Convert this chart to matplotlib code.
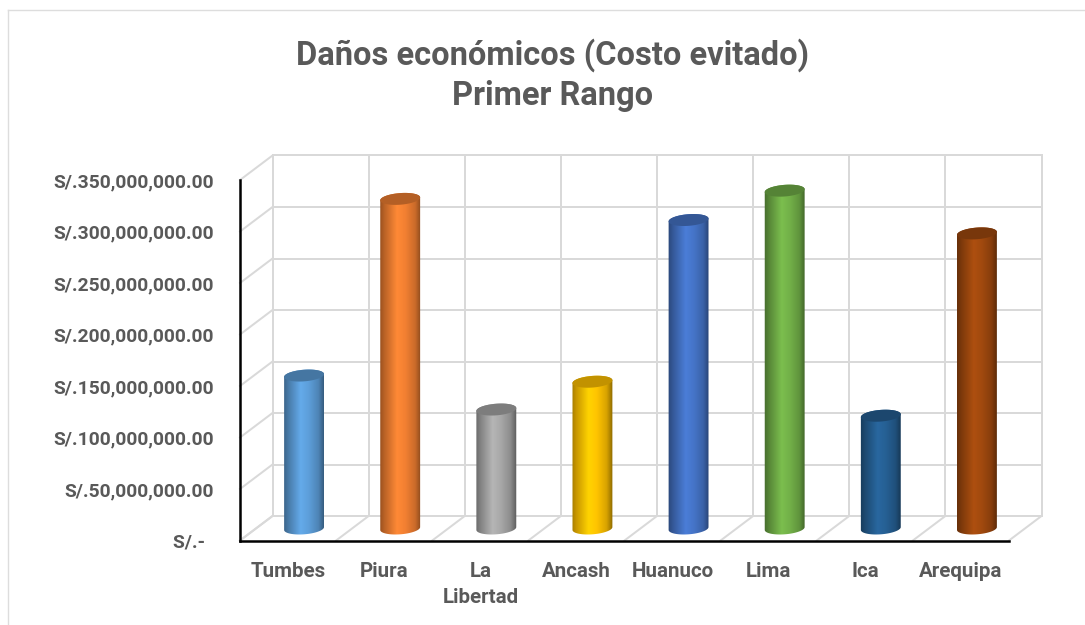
import numpy as np
import matplotlib
matplotlib.use("Agg")
import matplotlib.pyplot as plt
from matplotlib.colors import LinearSegmentedColormap
from matplotlib.lines import Line2D
from matplotlib.patches import Polygon
from matplotlib.transforms import Affine2D

categories = ["Tumbes", "Piura", "La\nLibertad", "Ancash", "Huanuco", "Lima", "Ica", "Arequipa"]
values = [148.5e6, 320e6, 115.5e6, 142.5e6, 299.5e6, 328e6, 109.5e6, 286.5e6]
mid_colors = ["#5B9BD5", "#ED7D31", "#A5A5A5", "#FFC000", "#4472C4", "#70AD47", "#255E91", "#9E480E"]
y_ticks = [0, 50e6, 100e6, 150e6, 200e6, 250e6, 300e6, 350e6]
y_labels = ["S/.-  ", "S/.50,000,000.00", "S/.100,000,000.00", "S/.150,000,000.00",
            "S/.200,000,000.00", "S/.250,000,000.00", "S/.300,000,000.00", "S/.350,000,000.00"]
title = "Daños económicos (Costo evitado)\nPrimer Rango"

W, H = 1085, 625
L, R, B, T = 240.0, 1009.0, 540.5, 180.0
GRID = "#D9D9D9"
TEXT = "#595959"
FONT = "Roboto"

fig = plt.figure(figsize=(W / 100, H / 100), dpi=100, facecolor="white")
for xs, ys in [((8, 1085), (10, 10)), ((8, 8), (10, 625))]:
    fig.add_artist(Line2D([x / W for x in xs], [1 - y / H for y in ys], transform=fig.transFigure,
                          color="#DDDDDD", linewidth=1.0))
ax = fig.add_axes([L / W, (H - B) / H, (R - L) / W, (B - T) / H])
ax.set_xlim(-0.5, len(categories) - 0.5)
ax.set_ylim(0, 350e6)
ax.patch.set_visible(False)

back = ax.transData + Affine2D().translate(32.5, 24.5)
middle = ax.transData + Affine2D().translate(16, 12)
gpx = 2.0 * 0.72
px_x = 8 / (R - L)
px_y = 350e6 / (B - T)

# walls and floor
for v in y_ticks:
    ax.plot([-0.5, 7.5], [v, v], transform=back, color=GRID, lw=gpx, clip_on=False, zorder=1)
    ax.plot([-0.5, -0.5 + 32.5 * px_x], [v, v + 24.5 * px_y], color=GRID, lw=gpx, clip_on=False, zorder=1)
for i in range(9):
    x = i - 0.5
    ax.plot([x, x], [0, 350e6], transform=back, color=GRID, lw=gpx, clip_on=False, zorder=1)
    ax.plot([x, x + 32.5 * px_x], [0, 24.5 * px_y], color=GRID, lw=gpx, clip_on=False, zorder=1)

# cylinders
a, b, phi = 20.0, 5.8, np.deg2rad(4.5)


def ell(t):
    ex = a * np.cos(t) * np.cos(phi) - b * np.sin(t) * np.sin(phi)
    ey = a * np.cos(t) * np.sin(phi) + b * np.sin(t) * np.cos(phi)
    return ex * px_x, ey * px_y


def shade(c, f):
    rgb = np.array(matplotlib.colors.to_rgb(c))
    return tuple(np.clip(rgb * f, 0, 1))


for i, (v, c) in enumerate(zip(values, mid_colors)):
    t_low = np.linspace(np.pi, 2 * np.pi, 60)
    t_up = np.linspace(0, np.pi, 60)
    xl, yl = ell(t_low)
    xu, yu = ell(t_up)
    outline = np.column_stack([np.r_[i + xl, i + xu], np.r_[yl, v + yu]])
    body = Polygon(outline, closed=True, transform=middle, facecolor="none", edgecolor="none", zorder=2)
    ax.add_patch(body)
    cmap = LinearSegmentedColormap.from_list(
        "c", [(0, shade(c, 0.62)), (0.12, shade(c, 0.78)), (0.42, shade(c, 1.1)),
              (0.62, shade(c, 1.02)), (0.85, shade(c, 0.85)), (1, shade(c, 0.55))])
    im = ax.imshow(np.linspace(0, 1, 128)[None, :], cmap=cmap, aspect="auto", origin="lower",
                   extent=[i - 21 * px_x, i + 21 * px_x, -8 * px_y, v + 8 * px_y],
                   transform=middle, zorder=3, interpolation="bilinear")
    im.set_clip_path(body)
    tf = np.linspace(0, 2 * np.pi, 120)
    xf, yf = ell(tf)
    ax.add_patch(Polygon(np.column_stack([i + xf, v + yf]), closed=True, transform=middle,
                         facecolor=shade(c, 0.76), edgecolor="none", zorder=4, clip_on=False))

ax.set_xlim(-0.5, len(categories) - 0.5)
ax.set_ylim(0, 350e6)

# axes
for s in ["top", "right"]:
    ax.spines[s].set_visible(False)
for s in ["left", "bottom"]:
    ax.spines[s].set_color("black")
    ax.spines[s].set_linewidth(1.8)
    ax.spines[s].set_zorder(6)
ax.set_yticks(y_ticks, y_labels)
ax.set_xticks(range(len(categories)), categories)
ax.tick_params(axis="y", length=0, pad=18.7, labelcolor=TEXT)
ax.tick_params(axis="x", length=0, pad=15.5, labelcolor=TEXT)
for lab in ax.get_yticklabels():
    lab.set(fontfamily=FONT, fontweight="bold", fontsize=13.9)
for lab in ax.get_xticklabels():
    lab.set(fontfamily=FONT, fontweight="bold", fontsize=14.8, linespacing=1.47)

fig.text(553 / W, 1 - 75 / H, title, ha="center", va="center", fontfamily=FONT, fontweight="bold",
         fontsize=23.5, color=TEXT, linespacing=1.32)

fig.savefig("out.png", dpi=100)
